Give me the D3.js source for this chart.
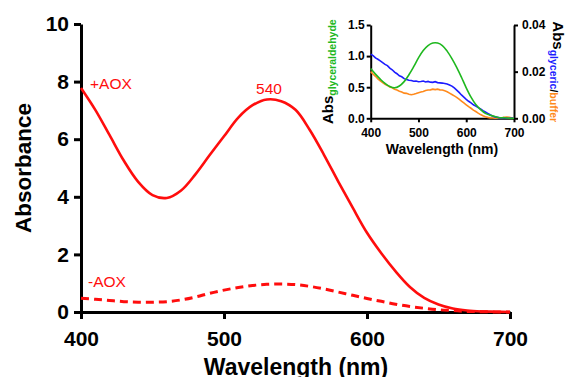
<!DOCTYPE html>
<html>
<head>
<meta charset="utf-8">
<script src="https://cdn.jsdelivr.net/npm/d3@7"></script>
<style>
  body { margin: 0; background: #fff; }
  svg { font-family: "Liberation Sans", Arial, sans-serif; }
</style>
</head>
<body>
<svg width="566" height="377"></svg>
<script>
// ---- data ----
const wl10 = d3.range(400, 701, 10);
const plusAOX = [7.78, 7.02, 6.14, 5.25, 4.52, 4.06, 3.96, 4.22, 4.78, 5.45, 6.10,
  6.75, 7.18, 7.38, 7.32, 7.02, 6.32, 5.45, 4.52, 3.62, 2.75, 2.04, 1.41, 0.87,
  0.49, 0.26, 0.12, 0.05, 0.02, 0.01, 0.00];
const minusAOX = [0.48, 0.44, 0.40, 0.36, 0.34, 0.34, 0.36, 0.42, 0.52, 0.65, 0.76,
  0.85, 0.92, 0.96, 0.97, 0.95, 0.89, 0.80, 0.69, 0.58, 0.47, 0.37, 0.27, 0.19,
  0.13, 0.08, 0.05, 0.02, 0.01, 0.00, 0.00];

// inset
const glyceraldehyde = [0.80, 0.71, 0.63, 0.56, 0.51, 0.49, 0.52, 0.59, 0.70, 0.83, 0.97,
  1.09, 1.17, 1.21, 1.21, 1.17, 1.08, 0.96, 0.82, 0.66, 0.49, 0.34, 0.22, 0.14,
  0.08, 0.05, 0.03, 0.01, 0.01, 0.00, 0.00];
const wl5 = d3.range(400, 701, 5);
const glyceric = [0.0275, 0.0269, 0.0259, 0.0253, 0.0246, 0.0239, 0.0231, 0.0226, 0.0215, 0.0208,
  0.0198, 0.0191, 0.0182, 0.0178, 0.0170, 0.0166, 0.0163, 0.0162, 0.0159, 0.0160,
  0.0157, 0.0158, 0.0160, 0.0156, 0.0158, 0.0155, 0.0154, 0.0157, 0.0153, 0.0152,
  0.0151, 0.0149, 0.0147, 0.0143, 0.0138, 0.0130, 0.0121, 0.0111, 0.0100, 0.0091,
  0.0081, 0.0073, 0.0066, 0.0058, 0.0052, 0.0046, 0.0040, 0.0033, 0.0027, 0.0021,
  0.0015, 0.0010, 0.0006, 0.0004, 0.0002, 0.0001, 0.0001, 0.0000, 0.0000, 0.0001, 0.0000];
const buffer = [0.0200, 0.0189, 0.0180, 0.0169, 0.0161, 0.0153, 0.0146, 0.0141, 0.0134, 0.0131,
  0.0124, 0.0121, 0.0116, 0.0113, 0.0108, 0.0107, 0.0103, 0.0101, 0.0103, 0.0106,
  0.0110, 0.0113, 0.0115, 0.0119, 0.0121, 0.0122, 0.0125, 0.0123, 0.0125, 0.0122,
  0.0121, 0.0118, 0.0114, 0.0108, 0.0102, 0.0096, 0.0090, 0.0082, 0.0074, 0.0066,
  0.0058, 0.0050, 0.0043, 0.0035, 0.0029, 0.0022, 0.0016, 0.0011, 0.0007, 0.0004,
  0.0002, 0.0001, 0.0000, 0.0000, 0.0001, 0.0002, 0.0004, 0.0005, 0.0004, 0.0002, 0.0000];

const xTicks = [400, 500, 600, 700];
const yTicks = [0, 2, 4, 6, 8, 10];
const insetLeftTicks = [0, 0.5, 1.0, 1.5];
const insetRightTicks = [0, 0.02, 0.04];

const svg = d3.select("svg");
const red = "#ff0d0d";

// ---- main chart ----
const x = d3.scaleLinear().domain([400, 700]).range([81, 510]);
const y = d3.scaleLinear().domain([0, 10]).range([312, 24]);

function styleAxis(g, w, fs) {
  g.selectAll("path, line").attr("stroke", "#000").attr("stroke-width", w);
  g.selectAll("text").attr("font-size", fs).attr("font-weight", "bold")
    .attr("fill", "#000").attr("font-family", "Liberation Sans, Arial, sans-serif");
}

svg.append("g")
  .attr("transform", "translate(0,312)")
  .call(d3.axisBottom(x).tickValues(xTicks).tickSize(7).tickSizeOuter(0).tickPadding(12))
  .call(g => styleAxis(g, 3, 21));

svg.append("g")
  .attr("transform", "translate(81,0)")
  .call(d3.axisLeft(y).tickValues(yTicks).tickSize(7).tickSizeOuter(0).tickPadding(5))
  .call(g => styleAxis(g, 3, 21));

const line = d3.line()
  .x((d, i) => x(wl10[i]))
  .y(d => y(d))
  .curve(d3.curveCatmullRom.alpha(0.5));

svg.append("path")
  .attr("d", line(plusAOX))
  .attr("fill", "none").attr("stroke", red).attr("stroke-width", 2.6);

svg.append("path")
  .attr("d", line(minusAOX))
  .attr("fill", "none").attr("stroke", red).attr("stroke-width", 3)
  .attr("stroke-dasharray", "8,5");

svg.append("text").attr("x", 90).attr("y", 89)
  .attr("font-size", 15.5).attr("fill", red).text("+AOX");
svg.append("text").attr("x", 269).attr("y", 94).attr("text-anchor", "middle")
  .attr("font-size", 15.5).attr("fill", red).text("540");
svg.append("text").attr("x", 88).attr("y", 287)
  .attr("font-size", 15.5).attr("fill", red).text("-AOX");

svg.append("text")
  .attr("transform", "translate(31,168) rotate(-90)")
  .attr("text-anchor", "middle").attr("font-size", 22.5).attr("font-weight", "bold")
  .text("Absorbance");
svg.append("text")
  .attr("x", 296).attr("y", 375).attr("text-anchor", "middle")
  .attr("font-size", 23).attr("font-weight", "bold")
  .text("Wavelength (nm)");

// ---- inset ----
const ix = d3.scaleLinear().domain([400, 700]).range([370.7, 514]);
const iyL = d3.scaleLinear().domain([0, 1.5]).range([118.3, 25]);
const iyR = d3.scaleLinear().domain([0, 0.04]).range([118.3, 25]);

svg.append("g")
  .attr("transform", "translate(0,118.3)")
  .call(d3.axisBottom(ix).tickValues(xTicks).tickSize(4).tickSizeOuter(0).tickPadding(6))
  .call(g => styleAxis(g, 2, 12));
svg.append("g")
  .attr("transform", "translate(370.7,0)")
  .call(d3.axisLeft(iyL).tickValues(insetLeftTicks).tickFormat(d3.format(".1f"))
    .tickSize(4).tickSizeOuter(0).tickPadding(2))
  .call(g => styleAxis(g, 2, 12));
svg.append("g")
  .attr("transform", "translate(514,0)")
  .call(d3.axisRight(iyR).tickValues(insetRightTicks).tickFormat(d3.format(".2f"))
    .tickSize(4).tickSizeOuter(0).tickPadding(4))
  .call(g => styleAxis(g, 2, 12));

const lineL = d3.line().x((d, i) => ix(wl10[i])).y(d => iyL(d)).curve(d3.curveCatmullRom.alpha(0.5));
const lineR = d3.line().x((d, i) => ix(wl5[i])).y(d => iyR(d));

svg.append("path").attr("d", lineR(buffer))
  .attr("fill", "none").attr("stroke", "#ff8a1c").attr("stroke-width", 1.6);
svg.append("path").attr("d", lineR(glyceric))
  .attr("fill", "none").attr("stroke", "#1c1cff").attr("stroke-width", 1.6);
svg.append("path").attr("d", lineL(glyceraldehyde))
  .attr("fill", "none").attr("stroke", "#1fb81f").attr("stroke-width", 1.6);

svg.append("text")
  .attr("x", 442).attr("y", 154).attr("text-anchor", "middle")
  .attr("font-size", 14).attr("font-weight", "bold")
  .text("Wavelength (nm)");

const tl = svg.append("text")
  .attr("transform", "translate(333,71.7) rotate(-90)")
  .attr("text-anchor", "middle").attr("font-weight", "bold");
tl.append("tspan").attr("font-size", 15).text("Abs");
tl.append("tspan").attr("font-size", 10.5).attr("dy", 3).attr("fill", "#1fb81f").text("glyceraldehyde");

const tr = svg.append("text")
  .attr("transform", "translate(553,71.7) rotate(90)")
  .attr("text-anchor", "middle").attr("font-weight", "bold");
tr.append("tspan").attr("font-size", 15).text("Abs");
tr.append("tspan").attr("font-size", 10.5).attr("dy", 3).attr("fill", "#1c1cff").text("glyceric");
tr.append("tspan").attr("font-size", 10.5).text("/");
tr.append("tspan").attr("font-size", 10.5).attr("fill", "#ff8a1c").text("buffer");
</script>
</body>
</html>
